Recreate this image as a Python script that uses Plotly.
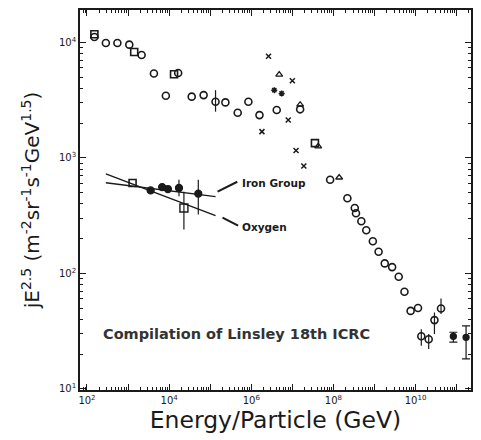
import plotly.graph_objects as go

# ---- data (log10 E in GeV, log10 of jE^2.5) ----
circ_logE = [2.18, 2.46, 2.74, 3.03, 3.33, 3.63, 3.92, 4.22, 4.55, 4.84, 5.37, 5.67, 5.93, 6.20, 6.62, 7.19,
             7.92, 8.34, 8.52, 8.55, 8.68, 8.80, 8.96, 9.10, 9.25, 9.43, 9.59, 9.73, 9.88, 10.06]
circ_logF = [4.046, 3.994, 3.994, 3.98, 3.89, 3.73, 3.537, 3.735, 3.53, 3.543, 3.48, 3.39, 3.485, 3.37, 3.414, 3.42,
             2.81, 2.65, 2.566, 2.52, 2.451, 2.373, 2.278, 2.187, 2.086, 2.054, 1.97, 1.84, 1.675, 1.70]

circerr_logE = [5.13, 10.14, 10.32, 10.46, 10.62]
circerr_logF = [3.485, 1.455, 1.43, 1.595, 1.696]
circerr_hi = [3.586, 1.517, 1.474, 1.661, 1.782]
circerr_lo = [3.40, 1.373, 1.345, 1.474, 1.647]

sq_logE = [2.18, 3.15, 4.12, 7.55, 3.11]
sq_logF = [4.070, 3.916, 3.724, 3.127, 2.782]

oxy_err_logE = [4.36]
oxy_err_logF = [2.566]
oxy_err_hi = [2.707]
oxy_err_lo = [2.379]

tri_logE = [6.68, 7.19, 8.14, 7.63]
tri_logF = [3.72, 3.46, 2.83, 3.10]

x_logE = [6.42, 7.00, 6.90, 6.26, 7.09, 7.28]
x_logF = [3.88, 3.667, 3.328, 3.227, 3.063, 2.93]

star_logE = [6.56, 6.74]
star_logF = [3.586, 3.558]

iron_logE = [3.55, 3.83, 3.97, 4.24, 4.71]
iron_logF = [2.718, 2.747, 2.73, 2.739, 2.69]
iron_hi = [2.718, 2.747, 2.73, 2.81, 2.81]
iron_lo = [2.718, 2.747, 2.73, 2.667, 2.509]

uhe_logE = [10.92, 11.23]
uhe_logF = [1.455, 1.446]
uhe_hi = [1.49, 1.546]
uhe_lo = [1.405, 1.259]

iron_line_logE = [2.46, 5.13]
iron_line_logF = [2.784, 2.664]
oxy_line_logE = [2.46, 5.13]
oxy_line_logF = [2.862, 2.50]

iron_lead_logE = [5.18, 5.66]
iron_lead_logF = [2.707, 2.793]
oxy_lead_logE = [5.30, 5.68]
oxy_lead_logF = [2.483, 2.414]

x_label_exp = [2, 4, 6, 8, 10]
x_odd_exp = [3, 5, 7, 9, 11]
y_tick_exp = [1, 2, 3, 4]

X_RANGE = [1.83, 11.35]
Y_RANGE = [0.99, 4.28]

p = lambda arr: [10 ** v for v in arr]

INK = "#1a1a1a"
FONT = "DejaVu Sans"
fig = go.Figure()

def add_markers(lx, ly, symbol, size=7, hi=None, lo=None, width=1.3, capw=0):
    ey = None
    if hi is not None:
        ey = dict(type="data", symmetric=False,
                  array=[10 ** h - 10 ** v for h, v in zip(hi, ly)],
                  arrayminus=[10 ** v - 10 ** l for l, v in zip(lo, ly)],
                  color=INK, thickness=1.2, width=capw)
    fig.add_trace(go.Scatter(x=p(lx), y=p(ly), mode="markers", error_y=ey,
                             marker=dict(symbol=symbol, size=size, color=INK,
                                         line=dict(color=INK, width=width)),
                             showlegend=False, hoverinfo="skip", cliponaxis=False))

def add_line(lx, ly, w=1.4):
    fig.add_trace(go.Scatter(x=p(lx), y=p(ly), mode="lines",
                             line=dict(color=INK, width=w),
                             showlegend=False, hoverinfo="skip"))

add_line(iron_line_logE, iron_line_logF)
add_line(oxy_line_logE, oxy_line_logF)
add_line(iron_lead_logE, iron_lead_logF, 2)
add_line(oxy_lead_logE, oxy_lead_logF, 2)

add_markers(circ_logE, circ_logF, "circle-open", 7, width=1.6)
add_markers(circerr_logE, circerr_logF, "circle-open", 7, circerr_hi, circerr_lo, width=1.6)
add_markers(sq_logE, sq_logF, "square-open", 7, width=1.6)
add_markers(oxy_err_logE, oxy_err_logF, "square-open", 8, oxy_err_hi, oxy_err_lo, width=1.4)
add_markers(tri_logE, tri_logF, "triangle-up-open", 6, width=1.3)
add_markers(x_logE, x_logF, "x-thin-open", 5, width=1.5)
add_markers(star_logE, star_logF, "asterisk-open", 5, width=1.5)
add_markers(iron_logE, iron_logF, "circle", 7, iron_hi, iron_lo)
add_markers(uhe_logE, uhe_logF, "circle", 6, uhe_hi, uhe_lo, capw=4)

# invisible helper trace on the secondary x axis (odd-decade major ticks)
fig.add_trace(go.Scatter(x=[10 ** X_RANGE[0]], y=[10 ** Y_RANGE[0]], xaxis="x2", mode="markers",
                         marker=dict(size=0.1, opacity=0), showlegend=False, hoverinfo="skip"))

fig.add_annotation(x=5.73, y=2.784, xref="x", yref="y", text="<b>Iron Group</b>", showarrow=False,
                   xanchor="left", yanchor="middle", font=dict(size=10.5, family=FONT, color=INK))
fig.add_annotation(x=5.73, y=2.397, xref="x", yref="y", text="<b>Oxygen</b>", showarrow=False,
                   xanchor="left", yanchor="middle", font=dict(size=10.5, family=FONT, color=INK))
fig.add_annotation(x=2.34, y=1.474, xref="x", yref="y", text="<b>Compilation of Linsley 18th ICRC</b>",
                   showarrow=False, xanchor="left", yanchor="middle",
                   font=dict(size=14.5, family=FONT, color="#333333"))

axis_common = dict(ticks="inside", ticklen=6, tickwidth=1.2, tickcolor=INK,
                   minor=dict(ticks="inside", ticklen=3, tickcolor=INK, dtick="D1", showgrid=False),
                   showline=True, linecolor=INK, linewidth=1.6, mirror="ticks",
                   showgrid=False, zeroline=False, automargin=False,
                   tickfont=dict(family=FONT, size=10, color=INK))

fig.update_layout(
    xaxis=dict(type="log", range=X_RANGE,
               tickvals=[10 ** e for e in x_label_exp],
               ticktext=[f"10<sup>{e}</sup>" for e in x_label_exp],
               title=dict(text="Energy/Particle (GeV)", standoff=2,
                          font=dict(family=FONT, size=23.5, color=INK)),
               **axis_common),
    xaxis2=dict(type="log", range=X_RANGE, overlaying="x", side="bottom", anchor="y",
                tickvals=[10 ** e for e in x_odd_exp], showticklabels=False,
                ticks="inside", ticklen=6, tickwidth=1.2, tickcolor=INK, mirror="ticks",
                showline=False, showgrid=False, zeroline=False, automargin=False),
    yaxis=dict(type="log", range=Y_RANGE,
               tickvals=[10 ** e for e in y_tick_exp],
               ticktext=[f"10<sup>{e}</sup>" for e in y_tick_exp],
               title=dict(text="jE<sup>2.5</sup> (m<sup>-2</sup>sr<sup>-1</sup>s<sup>-1</sup>GeV<sup>1.5</sup>)",
                          standoff=14, font=dict(family=FONT, size=20, color=INK)),
               **axis_common),
    width=481, height=440, margin=dict(l=80, r=10, t=10, b=50, autoexpand=False),
    paper_bgcolor="white", plot_bgcolor="white")
fig.write_html("out.html", config={"displayModeBar": False},
               post_script="document.body.style.margin='0px';")
